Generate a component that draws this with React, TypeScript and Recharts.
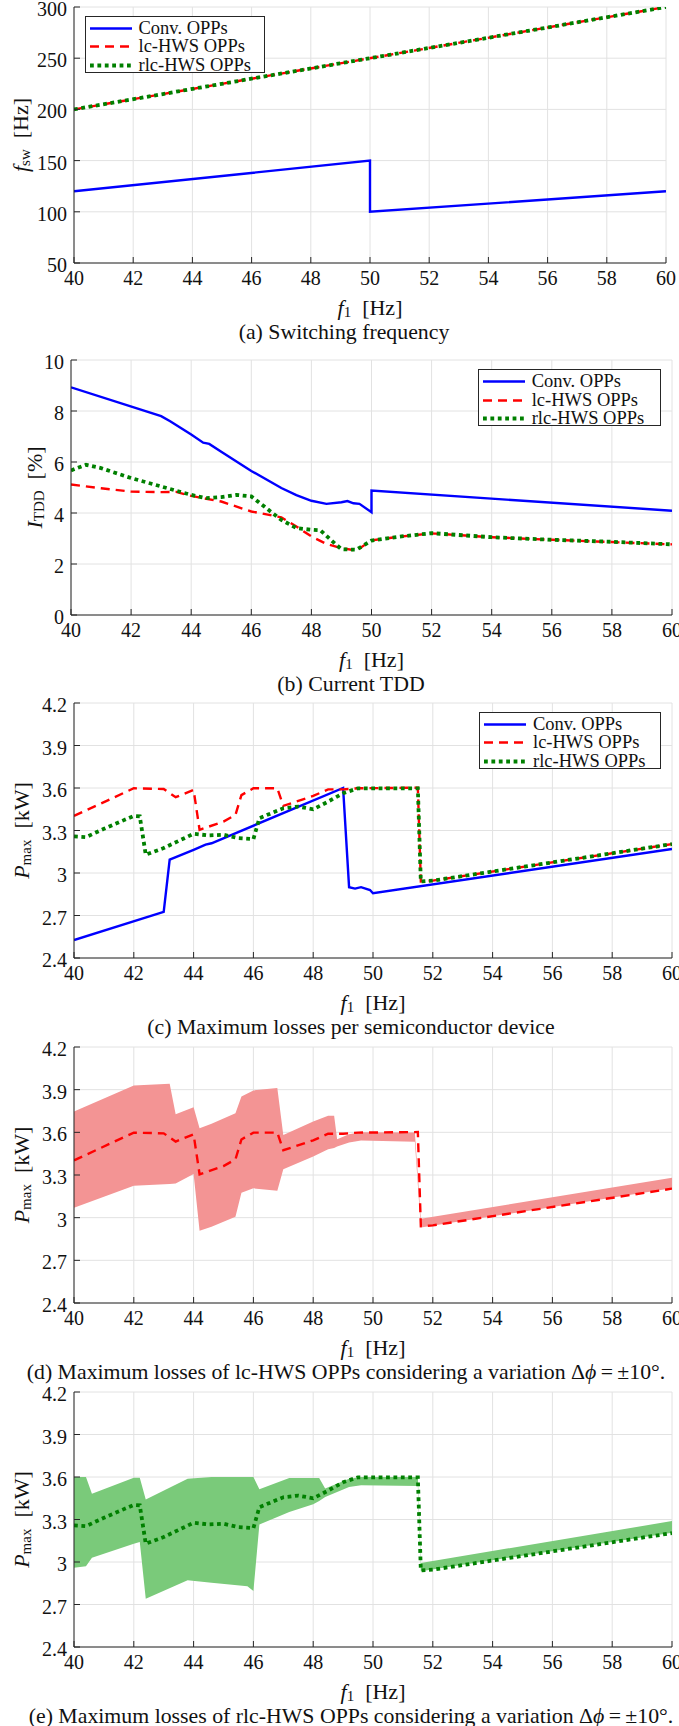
import React from 'react';
import { ComposedChart, Line, Area, XAxis, YAxis, CartesianGrid } from 'recharts';

// ---------- data ----------
const X_TICKS = [40, 42, 44, 46, 48, 50, 52, 54, 56, 58, 60];
const LEGEND_NAMES = ['Conv. OPPs', 'lc-HWS OPPs', 'rlc-HWS OPPs'];

// (a) switching frequency
const FSW_TICKS = [50, 100, 150, 200, 250, 300];
const fswConvX = [40, 50, 50, 60];
const fswConvY = [120, 150, 100, 120];
const fswLcX = [40, 60];
const fswLcY = [200, 300];
const fswRlcX = [40, 60];
const fswRlcY = [200, 300];

// (b) current TDD
const TDD_TICKS = [0, 2, 4, 6, 8, 10];
const tddConvX = [40, 43, 43.3, 44, 44.4, 44.6, 45, 46, 47, 47.5, 48, 48.5, 49, 49.2, 49.4, 49.6, 50, 50, 60];
const tddConvY = [8.93, 7.8, 7.6, 7.08, 6.76, 6.71, 6.4, 5.65, 4.98, 4.7, 4.48, 4.36, 4.42, 4.47, 4.38, 4.36, 4.03, 4.88, 4.09];
const tddLcX = [40, 41, 42, 43, 43.5, 44, 45, 46, 47, 47.5, 48, 48.5, 49, 49.5, 50, 51, 52, 54, 56, 58, 60];
const tddLcY = [5.12, 4.97, 4.84, 4.82, 4.83, 4.67, 4.45, 4.06, 3.83, 3.47, 3.08, 2.79, 2.62, 2.53, 2.93, 3.08, 3.2, 3.05, 2.95, 2.86, 2.77];
const tddRlcX = [40, 40.5, 41, 42, 43, 44, 44.5, 45, 45.5, 46, 46.5, 47, 47.5, 48, 48.3, 48.7, 49, 49.5, 50, 51, 52, 54, 56, 58, 60];
const tddRlcY = [5.67, 5.89, 5.76, 5.37, 5.04, 4.71, 4.58, 4.62, 4.71, 4.65, 4.19, 3.73, 3.41, 3.34, 3.32, 2.89, 2.58, 2.56, 2.92, 3.08, 3.21, 3.05, 2.95, 2.87, 2.77];

// (c) maximum losses
const P_TICKS = [2.4, 2.7, 3, 3.3, 3.6, 3.9, 4.2];
const pConvX = [40, 43, 43.2, 44, 44.4, 44.6, 49, 49.2, 49.4, 49.6, 49.9, 50, 60];
const pConvY = [2.527, 2.726, 3.094, 3.164, 3.2, 3.21, 3.6, 2.9, 2.89, 2.9, 2.88, 2.857, 3.169];
const pLcX = [40, 42, 43, 43.4, 44, 44.2, 45, 45.4, 45.6, 46, 46.8, 47, 48, 48.5, 49, 49.5, 51.5, 51.6, 52, 60];
const pLcY = [3.403, 3.598, 3.593, 3.535, 3.586, 3.305, 3.363, 3.41, 3.55, 3.598, 3.598, 3.474, 3.544, 3.59, 3.59, 3.598, 3.602, 2.94, 2.946, 3.204];
const pRlcX = [40, 40.4, 41, 42, 42.2, 42.4, 43, 44, 44.5, 45, 45.5, 46, 46.2, 47, 47.5, 48, 48.5, 49, 49.5, 51.5, 51.6, 52, 60];
const pRlcY = [3.258, 3.253, 3.312, 3.403, 3.4, 3.129, 3.176, 3.277, 3.265, 3.27, 3.246, 3.239, 3.387, 3.457, 3.469, 3.45, 3.504, 3.563, 3.598, 3.598, 2.94, 2.946, 3.204];

// (d) lc-HWS band for phase variation
const lcBandX = [40, 42, 43.2, 43.4, 44, 44.2, 44.6, 45.4, 45.6, 46, 46.8, 47, 48, 48.5, 48.7, 48.8, 49.2, 49.6, 51.4, 51.6, 60];
const lcBandLo = [3.07, 3.225, 3.237, 3.24, 3.307, 2.908, 2.936, 3.006, 3.176, 3.206, 3.19, 3.34, 3.43, 3.481, 3.49, 3.5, 3.528, 3.542, 3.533, 2.931, 3.206];
const lcBandHi = [3.747, 3.93, 3.942, 3.728, 3.777, 3.629, 3.66, 3.735, 3.852, 3.895, 3.911, 3.582, 3.676, 3.716, 3.716, 3.551, 3.587, 3.6, 3.598, 2.992, 3.281];

// (e) rlc-HWS band for phase variation
const rlcBandX = [40, 40.4, 40.6, 42, 42.2, 42.4, 43.8, 44.6, 45.8, 46, 46.2, 47.2, 48, 48.2, 48.4, 49.2, 49.6, 51.5, 51.6, 60];
const rlcBandLo = [2.96, 2.97, 3.03, 3.129, 3.141, 2.741, 2.871, 2.854, 2.828, 2.795, 3.264, 3.353, 3.407, 3.43, 3.459, 3.529, 3.541, 3.536, 2.934, 3.207];
const rlcBandHi = [3.6, 3.6, 3.482, 3.595, 3.595, 3.442, 3.588, 3.6, 3.6, 3.6, 3.513, 3.593, 3.593, 3.593, 3.518, 3.588, 3.6, 3.6, 2.993, 3.289];

// ---------- helpers / styles ----------
const FONT = "'Liberation Serif', 'Times New Roman', Times, serif";
const FRAME = '#262626';
const GRID = '#e2e2e2';
const BLUE = '#0000ff';
const RED = '#ff0000';
const GREEN = '#008000';
const BAND_RED = '#f39494';
const BAND_GREEN = '#7aca7a';

const zip = (xs: number[], ys: number[]) => xs.map((x, i) => ({ x, y: ys[i] }));
const zipBand = (xs: number[], lo: number[], hi: number[]) => xs.map((x, i) => ({ x, r: [lo[i], hi[i]] }));

const STYLES = [
  { color: BLUE, width: 2.4, dash: undefined as string | undefined },
  { color: RED, width: 2.4, dash: '9 6' },
  { color: GREEN, width: 3.8, dash: '3.8 3.6' },
];

const TEXT_STYLE = { fontFamily: FONT } as React.CSSProperties;

function YLabel(props: any) {
  const { px, py, main, sub, unit } = props;
  return (
    <text
      x={px}
      y={py}
      transform={`rotate(-90 ${px} ${py})`}
      textAnchor="middle"
      dominantBaseline="central"
      style={TEXT_STYLE}
      fontSize={22}
      fill="#111"
    >
      <tspan fontStyle="italic">{main}</tspan>
      <tspan fontSize={15} dy={5}>{sub}</tspan>
      <tspan dy={-5}>{'\u00A0\u00A0[' + unit + ']'}</tspan>
    </text>
  );
}

function XLabel(props: any) {
  const { px, py } = props;
  return (
    <text x={px} y={py} textAnchor="middle" dominantBaseline="central" style={TEXT_STYLE} fontSize={22} fill="#111">
      <tspan fontStyle="italic">f</tspan>
      <tspan fontSize={15} dy={5}>1</tspan>
      <tspan dy={-5}>{'\u00A0\u00A0[Hz]'}</tspan>
    </text>
  );
}

function TickText(props: any) {
  const { x, y, payload, axis } = props;
  const isY = axis === 'y';
  return (
    <text
      x={x}
      y={y}
      textAnchor={isY ? 'end' : 'middle'}
      dominantBaseline={isY ? 'central' : 'hanging'}
      dy={isY ? 2 : 1}
      style={{ fontFamily: FONT, fontSize: 20 }}
      fill="#111"
    >
      {String(payload.value)}
    </text>
  );
}

function LegendBox({ left, top, width }: { left: number; top: number; width: number }) {
  return (
    <div
      style={{
        position: 'absolute',
        left,
        top,
        width,
        height: 57,
        boxSizing: 'border-box',
        border: `1px solid ${FRAME}`,
        background: '#fff',
        fontFamily: FONT,
        fontSize: 18.5,
        color: '#111',
        zIndex: 2,
      }}
    >
      {LEGEND_NAMES.map((name, i) => (
        <div key={name} style={{ position: 'absolute', left: 0, top: 2 + i * 18.5, height: 18.5, width: '100%' }}>
          <svg style={{ position: 'absolute', left: 4, top: 0 }} width={42} height={18.5}>
            <line
              x1={0}
              x2={42}
              y1={9.5}
              y2={9.5}
              stroke={STYLES[i].color}
              strokeWidth={STYLES[i].width}
              strokeDasharray={STYLES[i].dash}
            />
          </svg>
          <span style={{ position: 'absolute', left: 53, top: 0, lineHeight: '18.5px', whiteSpace: 'nowrap' }}>{name}</span>
        </div>
      ))}
    </div>
  );
}

type LineSpec = { data: { x: number; y: number }[]; style: number };
type BandSpec = { data: { x: number; r: number[] }[]; color: string };

type PanelProps = {
  plotLeft: number;
  plotRight: number;
  plotTop: number;
  plotBottom: number;
  yDomain: [number, number];
  yTicks: number[];
  yMain: string;
  ySub: string;
  yUnit: string;
  yLabelX: number;
  lines: LineSpec[];
  bands?: BandSpec[];
  legend?: { left: number; top: number; width: number };
  caption: React.ReactNode;
  captionCenterX: number;
};

function Panel(p: PanelProps) {
  const plotH = p.plotBottom - p.plotTop;
  const chartTop = p.plotTop - 10;
  const chartH = plotH + 10 + 60;
  const captionCenterY = p.plotBottom + 69;
  return (
    <>
      <div style={{ position: 'absolute', left: 0, top: chartTop, width: 679, height: chartH, fontFamily: FONT }}>
        <ComposedChart
          width={679}
          height={chartH}
          margin={{ top: 10, right: 679 - p.plotRight, bottom: 0, left: 0 }}
          style={{ fontFamily: FONT }}
        >
          <CartesianGrid stroke={GRID} strokeWidth={1} />
          {(p.bands || []).map((b, i) => (
            <Area
              key={'band' + i}
              data={b.data}
              dataKey="r"
              type="linear"
              stroke="none"
              fill={b.color}
              fillOpacity={1}
              dot={false}
              activeDot={false}
              isAnimationActive={false}
            />
          ))}
          {p.lines.map((l, i) => (
            <Line
              key={'line' + i}
              data={l.data}
              dataKey="y"
              type="linear"
              stroke={STYLES[l.style].color}
              strokeWidth={STYLES[l.style].width}
              strokeDasharray={STYLES[l.style].dash}
              dot={false}
              activeDot={false}
              isAnimationActive={false}
            />
          ))}
          <XAxis
            type="number"
            dataKey="x"
            domain={[40, 60]}
            ticks={X_TICKS}
            interval={0}
            height={60}
            allowDataOverflow
            axisLine={{ stroke: FRAME, strokeWidth: 1 }}
            tickLine={{ stroke: FRAME, strokeWidth: 1 }}
            tickSize={-6}
            tickMargin={13}
            tick={<TickText axis="x" />}
            label={<XLabel px={(p.plotLeft + p.plotRight) / 2} py={10 + plotH + 44} />}
          />
          <XAxis
            xAxisId="top"
            orientation="top"
            type="number"
            domain={[40, 60]}
            ticks={X_TICKS}
            interval={0}
            height={0}
            allowDataOverflow
            axisLine={{ stroke: FRAME, strokeWidth: 1 }}
            tickLine={{ stroke: FRAME, strokeWidth: 1 }}
            tickSize={-6}
            tick={false}
          />
          <YAxis
            type="number"
            domain={p.yDomain}
            ticks={p.yTicks}
            interval={0}
            width={p.plotLeft}
            allowDataOverflow
            axisLine={{ stroke: FRAME, strokeWidth: 1 }}
            tickLine={{ stroke: FRAME, strokeWidth: 1 }}
            tickSize={-6}
            tickMargin={13}
            tick={<TickText axis="y" />}
            label={<YLabel px={p.yLabelX} py={10 + plotH / 2} main={p.yMain} sub={p.ySub} unit={p.yUnit} />}
          />
          <YAxis
            yAxisId="right"
            orientation="right"
            type="number"
            domain={p.yDomain}
            ticks={p.yTicks}
            interval={0}
            width={0}
            allowDataOverflow
            axisLine={{ stroke: FRAME, strokeWidth: 1 }}
            tickLine={{ stroke: FRAME, strokeWidth: 1 }}
            tickSize={-6}
            tick={false}
          />
        </ComposedChart>
      </div>
      {p.legend && <LegendBox left={p.legend.left} top={p.legend.top} width={p.legend.width} />}
      <div
        style={{
          position: 'absolute',
          left: p.captionCenterX - 400,
          width: 800,
          top: captionCenterY - 13,
          height: 26,
          lineHeight: '26px',
          textAlign: 'center',
          whiteSpace: 'nowrap',
          fontFamily: FONT,
          fontSize: 21.8,
          color: '#111',
        }}
      >
        {p.caption}
      </div>
    </>
  );
}

const deltaPhi = (
  <>
    {'\u0394'}
    <i>{'\u03D5'}</i>
    {'\u2009=\u2009\u00B110\u00B0.'}
  </>
);

export default function App() {
  const lcLineC = zip(pLcX, pLcY);
  const rlcLineC = zip(pRlcX, pRlcY);
  return (
    <div
      style={{
        position: 'absolute',
        left: 0,
        top: 0,
        width: 679,
        height: 1726,
        overflow: 'hidden',
        background: '#fff',
        fontFamily: FONT,
      }}
    >
      <Panel
        plotLeft={74}
        plotRight={666}
        plotTop={7}
        plotBottom={263}
        yDomain={[50, 300]}
        yTicks={FSW_TICKS}
        yMain="f"
        ySub="sw"
        yUnit="Hz"
        yLabelX={20}
        lines={[
          { data: zip(fswConvX, fswConvY), style: 0 },
          { data: zip(fswLcX, fswLcY), style: 1 },
          { data: zip(fswRlcX, fswRlcY), style: 2 },
        ]}
        legend={{ left: 84.5, top: 15.7, width: 180 }}
        caption="(a)  Switching  frequency"
        captionCenterX={344}
      />
      <Panel
        plotLeft={71}
        plotRight={672}
        plotTop={360}
        plotBottom={615}
        yDomain={[0, 10]}
        yTicks={TDD_TICKS}
        yMain="I"
        ySub="TDD"
        yUnit="%"
        yLabelX={33.5}
        lines={[
          { data: zip(tddConvX, tddConvY), style: 0 },
          { data: zip(tddLcX, tddLcY), style: 1 },
          { data: zip(tddRlcX, tddRlcY), style: 2 },
        ]}
        legend={{ left: 477.7, top: 369, width: 183 }}
        caption="(b)  Current  TDD"
        captionCenterX={351}
      />
      <Panel
        plotLeft={74}
        plotRight={672}
        plotTop={703}
        plotBottom={958}
        yDomain={[2.4, 4.2]}
        yTicks={P_TICKS}
        yMain="P"
        ySub="max"
        yUnit="kW"
        yLabelX={20.5}
        lines={[
          { data: zip(pConvX, pConvY), style: 0 },
          { data: lcLineC, style: 1 },
          { data: rlcLineC, style: 2 },
        ]}
        legend={{ left: 479, top: 711.7, width: 182 }}
        caption="(c)  Maximum  losses  per  semiconductor  device"
        captionCenterX={351}
      />
      <Panel
        plotLeft={74}
        plotRight={672}
        plotTop={1047}
        plotBottom={1303}
        yDomain={[2.4, 4.2]}
        yTicks={P_TICKS}
        yMain="P"
        ySub="max"
        yUnit="kW"
        yLabelX={20.5}
        bands={[{ data: zipBand(lcBandX, lcBandLo, lcBandHi), color: BAND_RED }]}
        lines={[{ data: lcLineC, style: 1 }]}
        caption={<>(d) Maximum losses of lc-HWS OPPs considering a variation {deltaPhi}</>}
        captionCenterX={346}
      />
      <Panel
        plotLeft={74}
        plotRight={672}
        plotTop={1392}
        plotBottom={1647}
        yDomain={[2.4, 4.2]}
        yTicks={P_TICKS}
        yMain="P"
        ySub="max"
        yUnit="kW"
        yLabelX={20.5}
        bands={[{ data: zipBand(rlcBandX, rlcBandLo, rlcBandHi), color: BAND_GREEN }]}
        lines={[{ data: rlcLineC, style: 2 }]}
        caption={<>(e) Maximum losses of rlc-HWS OPPs considering a variation {deltaPhi}</>}
        captionCenterX={351}
      />
    </div>
  );
}
